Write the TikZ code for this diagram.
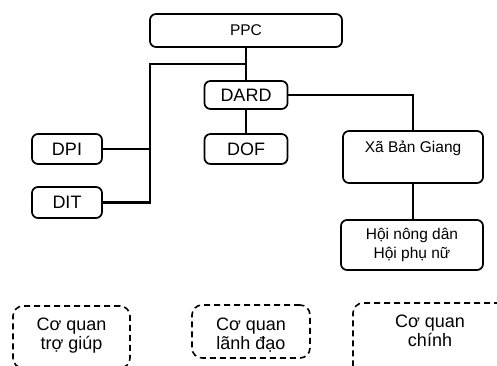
\documentclass[tikz,border=0pt]{standalone}
\usepackage{fontspec}
\setmainfont{Liberation Sans}
\begin{document}
\begin{tikzpicture}[x=1bp,y=-1bp,
  solidbox/.style={draw,line width=1.7bp,rounded corners=6bp,inner sep=0pt},
  dashbox/.style={draw,line width=1.6bp,rounded corners=10bp,dash pattern=on 6bp off 4bp,inner sep=0pt},
  conn/.style={line width=1.7bp},
  thickconn/.style={line width=2.6bp},
  lbl/.style={font=\fontsize{18bp}{19bp}\selectfont,align=center,inner sep=0pt},
  slbl/.style={font=\fontsize{15.5bp}{19bp}\selectfont,align=center,inner sep=0pt}]
\useasboundingbox (0,0) rectangle (497,365);
% solid boxes
\node[solidbox,minimum width=192bp,minimum height=33bp,slbl] (PPC) at (246,30.5) {PPC};
\node[solidbox,minimum width=83bp,minimum height=28bp,lbl] (DARD) at (246,95) {DARD};
\node[solidbox,minimum width=83bp,minimum height=30bp,lbl] (DOF) at (246,149) {DOF};
\node[solidbox,minimum width=70bp,minimum height=30bp,lbl] (DPI) at (67,149) {DPI};
\node[solidbox,minimum width=70bp,minimum height=31bp,lbl] (DIT) at (67,202.5) {DIT};
\node[solidbox,minimum width=140bp,minimum height=52bp] (XA) at (413,157) {};
\node[slbl] (XAT) at (413,148) {Xã Bản Giang};
\node[solidbox,minimum width=142bp,minimum height=50bp,slbl] (HOI) at (412,245) {Hội nông dân\\Hội phụ nữ};
% dashed legend boxes
\node[dashbox,minimum width=117bp,minimum height=62bp] (L1) at (71.5,337) {};
\node[lbl] (L1T) at (71.5,335.5) {Cơ quan\\trợ giúp};
\node[dashbox,minimum width=118bp,minimum height=53bp] (L2) at (251,331.5) {};
\node[lbl] (L2T) at (251,335.5) {Cơ quan\\lãnh đạo};
\node[dashbox,minimum width=167bp,minimum height=77bp] (L3) at (436.5,341.5) {};
\node[lbl] (L3T) at (430,330.5) {Cơ quan\\chính};
% connectors
\coordinate (J1) at (246,64);
\coordinate (BT) at (150,64);
\coordinate (BM) at (150,149);
\draw[conn] (PPC.south -| J1) -- (DARD.north -| J1);
\draw[conn] (J1) -- (BT) -- (BM);
\draw[thickconn] (DPI.east) -- (BM |- DPI.east);
\draw[thickconn] (BM) |- (DIT.east);
\draw[conn] (DARD.south) -- (DOF.north);
\draw[conn] (DARD.east) -| (XA.north);
\draw[conn] (XA.south -| XAT) -- (HOI.north -| XAT);
\end{tikzpicture}
\end{document}
